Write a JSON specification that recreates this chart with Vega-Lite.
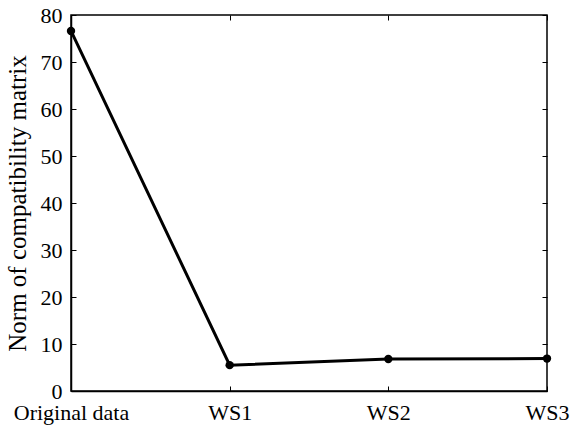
{
  "$schema": "https://vega.github.io/schema/vega-lite/v6.json",
  "width": 476,
  "height": 376,
  "autosize": "none",
  "padding": {"left": 71, "top": 15, "right": 30, "bottom": 37},
  "background": "white",
  "config": {
    "view": {"stroke": "black", "strokeWidth": 1.5},
    "font": "Liberation Serif",
    "axis": {
      "labelFont": "Liberation Serif",
      "titleFont": "Liberation Serif",
      "labelFontSize": 22,
      "titleFontSize": 25,
      "labelColor": "black",
      "titleColor": "black",
      "titleFontWeight": "normal",
      "domainColor": "black",
      "tickColor": "black",
      "grid": false
    }
  },
  "data": {
    "values": [
      {"stage": "Original data", "norm": 76.6},
      {"stage": "WS1", "norm": 5.5},
      {"stage": "WS2", "norm": 6.8},
      {"stage": "WS3", "norm": 6.9}
    ]
  },
  "resolve": {"axis": {"x": "independent", "y": "independent"}},
  "layer": [
    {
      "mark": {"type": "line", "color": "black", "strokeWidth": 3},
      "encoding": {
        "x": {
          "field": "stage",
          "type": "ordinal",
          "sort": null,
          "scale": {"type": "point", "padding": 0},
          "axis": {"title": null, "labelAngle": 0, "tickSize": -5, "labelPadding": 16, "labelBaseline": "top", "domainWidth": 1.5}
        },
        "y": {
          "field": "norm",
          "type": "quantitative",
          "scale": {"domain": [0, 80], "nice": false},
          "axis": {"title": "Norm of compatibility matrix", "values": [0,10,20,30,40,50,60,70,80], "tickSize": -5, "labelPadding": 14, "titlePadding": 10, "domainWidth": 1.5}
        }
      }
    },
    {
      "mark": {"type": "point", "filled": true, "color": "black", "size": 70, "opacity": 1},
      "encoding": {
        "x": {"field": "stage", "type": "ordinal", "sort": null,
          "axis": {"orient": "top", "title": null, "labels": false, "domain": false, "tickSize": -5}},
        "y": {"field": "norm", "type": "quantitative",
          "axis": {"orient": "right", "title": null, "labels": false, "domain": false, "tickSize": -5, "values": [0,10,20,30,40,50,60,70,80]}}
      }
    }
  ]
}
